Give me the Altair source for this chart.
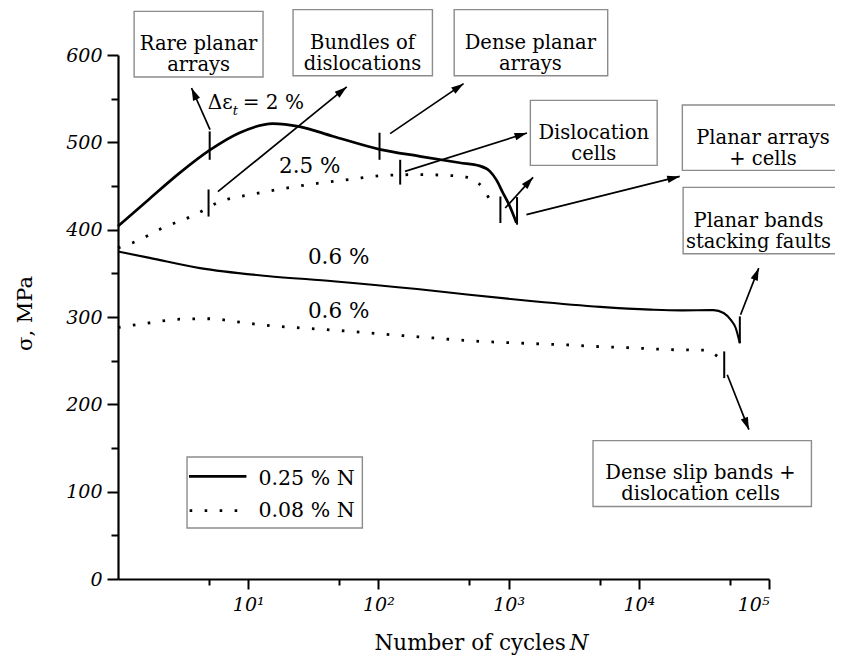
import math
import altair as alt
import pandas as pd

W, H = 651, 524
FONT = "DejaVu Serif"

# ---------------- curve data (N = number of cycles, s = stress MPa) ----------------
n_hi_025 = [1, 1.75, 2.98, 5.06, 8.61, 15.4, 24.8, 44.6, 102, 208, 421, 600, 716, 806, 906, 1020, 1148]
s_hi_025 = [404, 435.5, 465, 491, 511, 521.5, 518, 507, 492, 484, 476.6, 473, 467, 457, 442, 427, 408]

n_hi_008 = [1, 1.3, 2.21, 3.89, 6.06, 10.3, 18.5, 33.8, 60.6, 109, 198, 355, 479, 582, 707, 760]
s_hi_008 = [379, 385, 402, 417, 432, 440, 447, 453, 457.5, 462, 463, 462, 460, 454, 436, 427]

n_lo_025 = [1, 1.75, 4.26, 13.9, 44.9, 198, 479, 1549, 5070, 12300, 20900, 37500, 44800, 50700, 55400, 59700]
s_lo_025 = [375, 367.7, 356, 347, 341, 332, 325.7, 318, 311.6, 308.5, 307.6, 307.9, 304.6, 296.9, 287.7, 270]

n_lo_008 = [1.0, 1.69, 2.98, 5.07, 8.63, 14.7, 25, 44.9, 81.8, 175, 264, 479, 863, 1549, 2825, 5070,
            9120, 16600, 32000, 41800]
s_lo_008 = [288, 293, 297.5, 298, 294, 290, 287.5, 285, 282, 278, 276, 273, 271, 269.5, 268, 266,
            264.6, 262.7, 262, 253]

# ---------------- markers on curves (vertical strokes) ----------------
mark_n = [5.06, 102, 147, 4.96, 865, 1161, 59700, 45300]
mark_s_lo = [480, 480, 451.6, 415, 407.6, 405.7, 270, 230]
mark_s_hi = [512.5, 511, 480, 446, 438, 437.3, 300.7, 260.6]

# ---------------- arrows (start -> tip) ----------------
arr_n1 = [5.09, 5.85, 123, 160, 942, 1371, 60500, 47800]
arr_s1 = [514.5, 443.5, 510, 466.7, 424.8, 417.2, 302.6, 233.9]
arr_n2 = [3.67, 57.1, 451, 1384, 1541, 20600, 83400, 70100]
arr_s2 = [562.2, 563.4, 567.2, 510.7, 459.9, 461, 356, 171]

# ---------------- annotation boxes ----------------
box_text = ["Rare planar\narrays", "Bundles of\ndislocations", "Dense planar\narrays",
            "Dislocation\ncells", "Planar arrays\n+ cells", "Planar bands\nstacking faults",
            "Dense slip bands +\ndislocation cells"]
box_n1 = [1.33, 22.1, 382, 1469, 21600, 21900, 4450]
box_n2 = [13.0, 260, 5770, 13840, 500000, 500000, 211800]
box_s1 = [574.8, 576.3, 576.3, 473.6, 467.9, 372.5, 83.1]
box_s2 = [650, 652, 652, 548, 542.8, 448.4, 158.4]
box_tn = [4.16, 75.5, 1470, 4510, 90000, 83000, 29800]
box_ts = [612.4, 614, 614, 511, 505, 410, 121]

# ---------------- curve labels ----------------
lab_text = ["2.5 %", "0.6 %", "0.6 %"]
lab_n = [29.7, 49.5, 49.5]
lab_s = [465, 361, 299]

# Δε_t = 2 %
de_text = ["Δε", "= 2 %"]
de_n = [4.89, 9.07]
de_s = [538, 538]
sub_text = ["t"]
sub_n = [7.6]
sub_s = [531.5]

# x-axis title: "Number of cycles" + italic "N"
xt_text = ["Number of cycles", "N"]
xt_n = [2748, 2945]
xt_s = [-81, -81]

# ---------------- legend ----------------
leg_labels = ["0.25 % N", "0.08 % N"]
leg_line_n = [3.51, 9.69]
leg_dot_n = [3.55, 9.0]
leg_s = [117.5, 78.2]
leg_text_n = [12.0, 12.0]
leg_text_s = [107.9, 71]
leg_box_n = [3.39, 75.3]
leg_box_s = [58.4, 139.7]

# ---------------- scales & axes ----------------
xs = alt.Scale(type="log", domain=[1, 100000], nice=False)
ys = alt.Scale(domain=[0, 600], nice=False, zero=False)

x_axis = alt.Axis(
    values=[5, 10, 50, 100, 500, 1000, 5000, 10000, 50000, 100000],
    labelExpr="datum.value == 10 ? '10¹' : datum.value == 100 ? '10²' : datum.value == 1000 ? '10³' : "
              "datum.value == 10000 ? '10⁴' : datum.value == 100000 ? '10⁵' : ''",
    tickSize={"condition": {"test": "indexof([10,100,1000,10000,100000], datum.value) >= 0", "value": 10},
              "value": 6},
    tickWidth=2, tickColor="black", domainColor="black", domainWidth=2.2,
    labelFont=FONT, labelFontStyle="italic", labelFontSize=19, labelColor="black", labelPadding=6,
    grid=False, title=None,
)
y_axis = alt.Axis(
    values=list(range(0, 601, 50)),
    labelExpr="datum.value % 100 === 0 ? datum.label : ''",
    tickSize={"condition": {"test": "datum.value % 100 === 0", "value": 11}, "value": 7},
    tickWidth=2, tickColor="black", domainColor="black", domainWidth=2.2,
    labelFont=FONT, labelFontStyle="italic", labelFontSize=19, labelColor="black", labelPadding=5,
    grid=False, title="σ, MPa", titleFont=FONT, titleFontSize=21, titleFontWeight="normal",
    titleColor="black", titleX=-93, titleY=258, titleAngle=-90, titleBaseline="middle", titleAlign="center",
)


def X(f="n"):
    return alt.X(f, type="quantitative", scale=xs, axis=x_axis)


def Y(f="s"):
    return alt.Y(f, type="quantitative", scale=ys, axis=y_axis)


def curve_df(ns, ss, name):
    return pd.DataFrame({"n": ns, "s": ss, "curve": name})


# arrow angles derived from the scale geometry
px_per_decade = W / 5.0
py_per_mpa = H / 600.0
angles = []
for a, b, c, d in zip(arr_n1, arr_s1, arr_n2, arr_s2):
    dx = px_per_decade * (math.log10(c) - math.log10(a))
    dy = py_per_mpa * (d - b)
    angles.append(math.degrees(math.atan2(dx, dy)) % 360)

arrows = pd.DataFrame({"n": arr_n1, "s": arr_s1, "n2": arr_n2, "s2": arr_s2, "ang": angles})
boxes = pd.DataFrame({"n": box_n1, "n2": box_n2, "s": box_s1, "s2": box_s2})
box_lab = pd.DataFrame({"n": box_tn, "s": box_ts, "t": box_text})
marks = pd.DataFrame({"n": mark_n, "s": mark_s_lo, "s2": mark_s_hi})

base_text = dict(font=FONT, color="black")

layers = []

# boxes
layers.append(alt.Chart(boxes).mark_rect(fill="white", stroke="#8c8c8c", strokeWidth=1.4).encode(
    x=X(), x2="n2", y=Y(), y2="s2"))
layers.append(alt.Chart(box_lab).mark_text(fontSize=19.5, lineBreak="\n", lineHeight=21, align="center",
                                           baseline="middle", **base_text).encode(x=X(), y=Y(), text="t"))

# curves
layers.append(alt.Chart(curve_df(n_hi_025, s_hi_025, "a")).mark_line(
    interpolate="monotone", color="black", strokeWidth=2.7).encode(x=X(), y=Y()))
layers.append(alt.Chart(curve_df(n_lo_025, s_lo_025, "b")).mark_line(
    interpolate="monotone", color="black", strokeWidth=2.1).encode(x=X(), y=Y()))
dotted = pd.concat([curve_df(n_hi_008, s_hi_008, "c"), curve_df(n_lo_008, s_lo_008, "d")])
layers.append(alt.Chart(dotted).mark_line(
    interpolate="monotone", color="black", strokeWidth=2.8, strokeDash=[2.6, 12.4]).encode(
    x=X(), y=Y(), detail="curve:N"))

# vertical markers
layers.append(alt.Chart(marks).mark_rule(color="black", strokeWidth=2).encode(x=X(), y=Y(), y2="s2"))

# arrows
layers.append(alt.Chart(arrows).mark_rule(color="black", strokeWidth=1.7).encode(
    x=X(), y=Y(), x2="n2", y2="s2"))
layers.append(alt.Chart(arrows).mark_point(
    shape="M0,0 L0.55,1.8 L-0.55,1.8 Z", filled=True, size=190, color="black", opacity=1).encode(
    x=X("n2"), y=Y("s2"), angle=alt.Angle("ang:Q", scale=None)))

# curve labels
layers.append(alt.Chart(pd.DataFrame({"n": lab_n, "s": lab_s, "t": lab_text})).mark_text(
    fontSize=21.5, align="center", baseline="alphabetic", **base_text).encode(x=X(), y=Y(), text="t"))
layers.append(alt.Chart(pd.DataFrame({"n": de_n, "s": de_s, "t": de_text})).mark_text(
    fontSize=20, align="left", baseline="alphabetic", **base_text).encode(x=X(), y=Y(), text="t"))
layers.append(alt.Chart(pd.DataFrame({"n": sub_n, "s": sub_s, "t": sub_text})).mark_text(
    fontSize=13, fontStyle="italic", align="left", baseline="alphabetic", **base_text).encode(
    x=X(), y=Y(), text="t"))

# x-axis title
layers.append(alt.Chart(pd.DataFrame({"n": [xt_n[0]], "s": [xt_s[0]], "t": [xt_text[0]]})).mark_text(
    fontSize=21.5, align="right", baseline="alphabetic", **base_text).encode(x=X(), y=Y(), text="t"))
layers.append(alt.Chart(pd.DataFrame({"n": [xt_n[1]], "s": [xt_s[1]], "t": [xt_text[1]]})).mark_text(
    fontSize=21.5, fontStyle="italic", align="left", baseline="alphabetic", **base_text).encode(
    x=X(), y=Y(), text="t"))

# legend
layers.append(alt.Chart(pd.DataFrame({"n": [leg_box_n[0]], "n2": [leg_box_n[1]], "s": [leg_box_s[0]],
                                      "s2": [leg_box_s[1]]})).mark_rect(
    fill="white", stroke="#8c8c8c", strokeWidth=1.4).encode(x=X(), x2="n2", y=Y(), y2="s2"))
layers.append(alt.Chart(pd.DataFrame({"n": leg_line_n, "s": [leg_s[0]] * 2})).mark_line(
    color="black", strokeWidth=2.7).encode(x=X(), y=Y()))
layers.append(alt.Chart(pd.DataFrame({"n": leg_dot_n, "s": [leg_s[1]] * 2})).mark_line(
    color="black", strokeWidth=2.8, strokeDash=[2.6, 12.4]).encode(x=X(), y=Y()))
layers.append(alt.Chart(pd.DataFrame({"n": leg_text_n, "s": leg_text_s, "t": leg_labels})).mark_text(
    fontSize=20.5, align="left", baseline="alphabetic", **base_text).encode(x=X(), y=Y(), text="t"))

chart = alt.layer(*layers).properties(
    width=W, height=H,
    padding={"left": 110, "top": 47, "right": 66, "bottom": 76},
    autosize=alt.AutoSizeParams(type="none"),
    background="white",
).configure_view(stroke=None)

chart.save("out.html", embed_options={"renderer": "svg", "actions": False})
